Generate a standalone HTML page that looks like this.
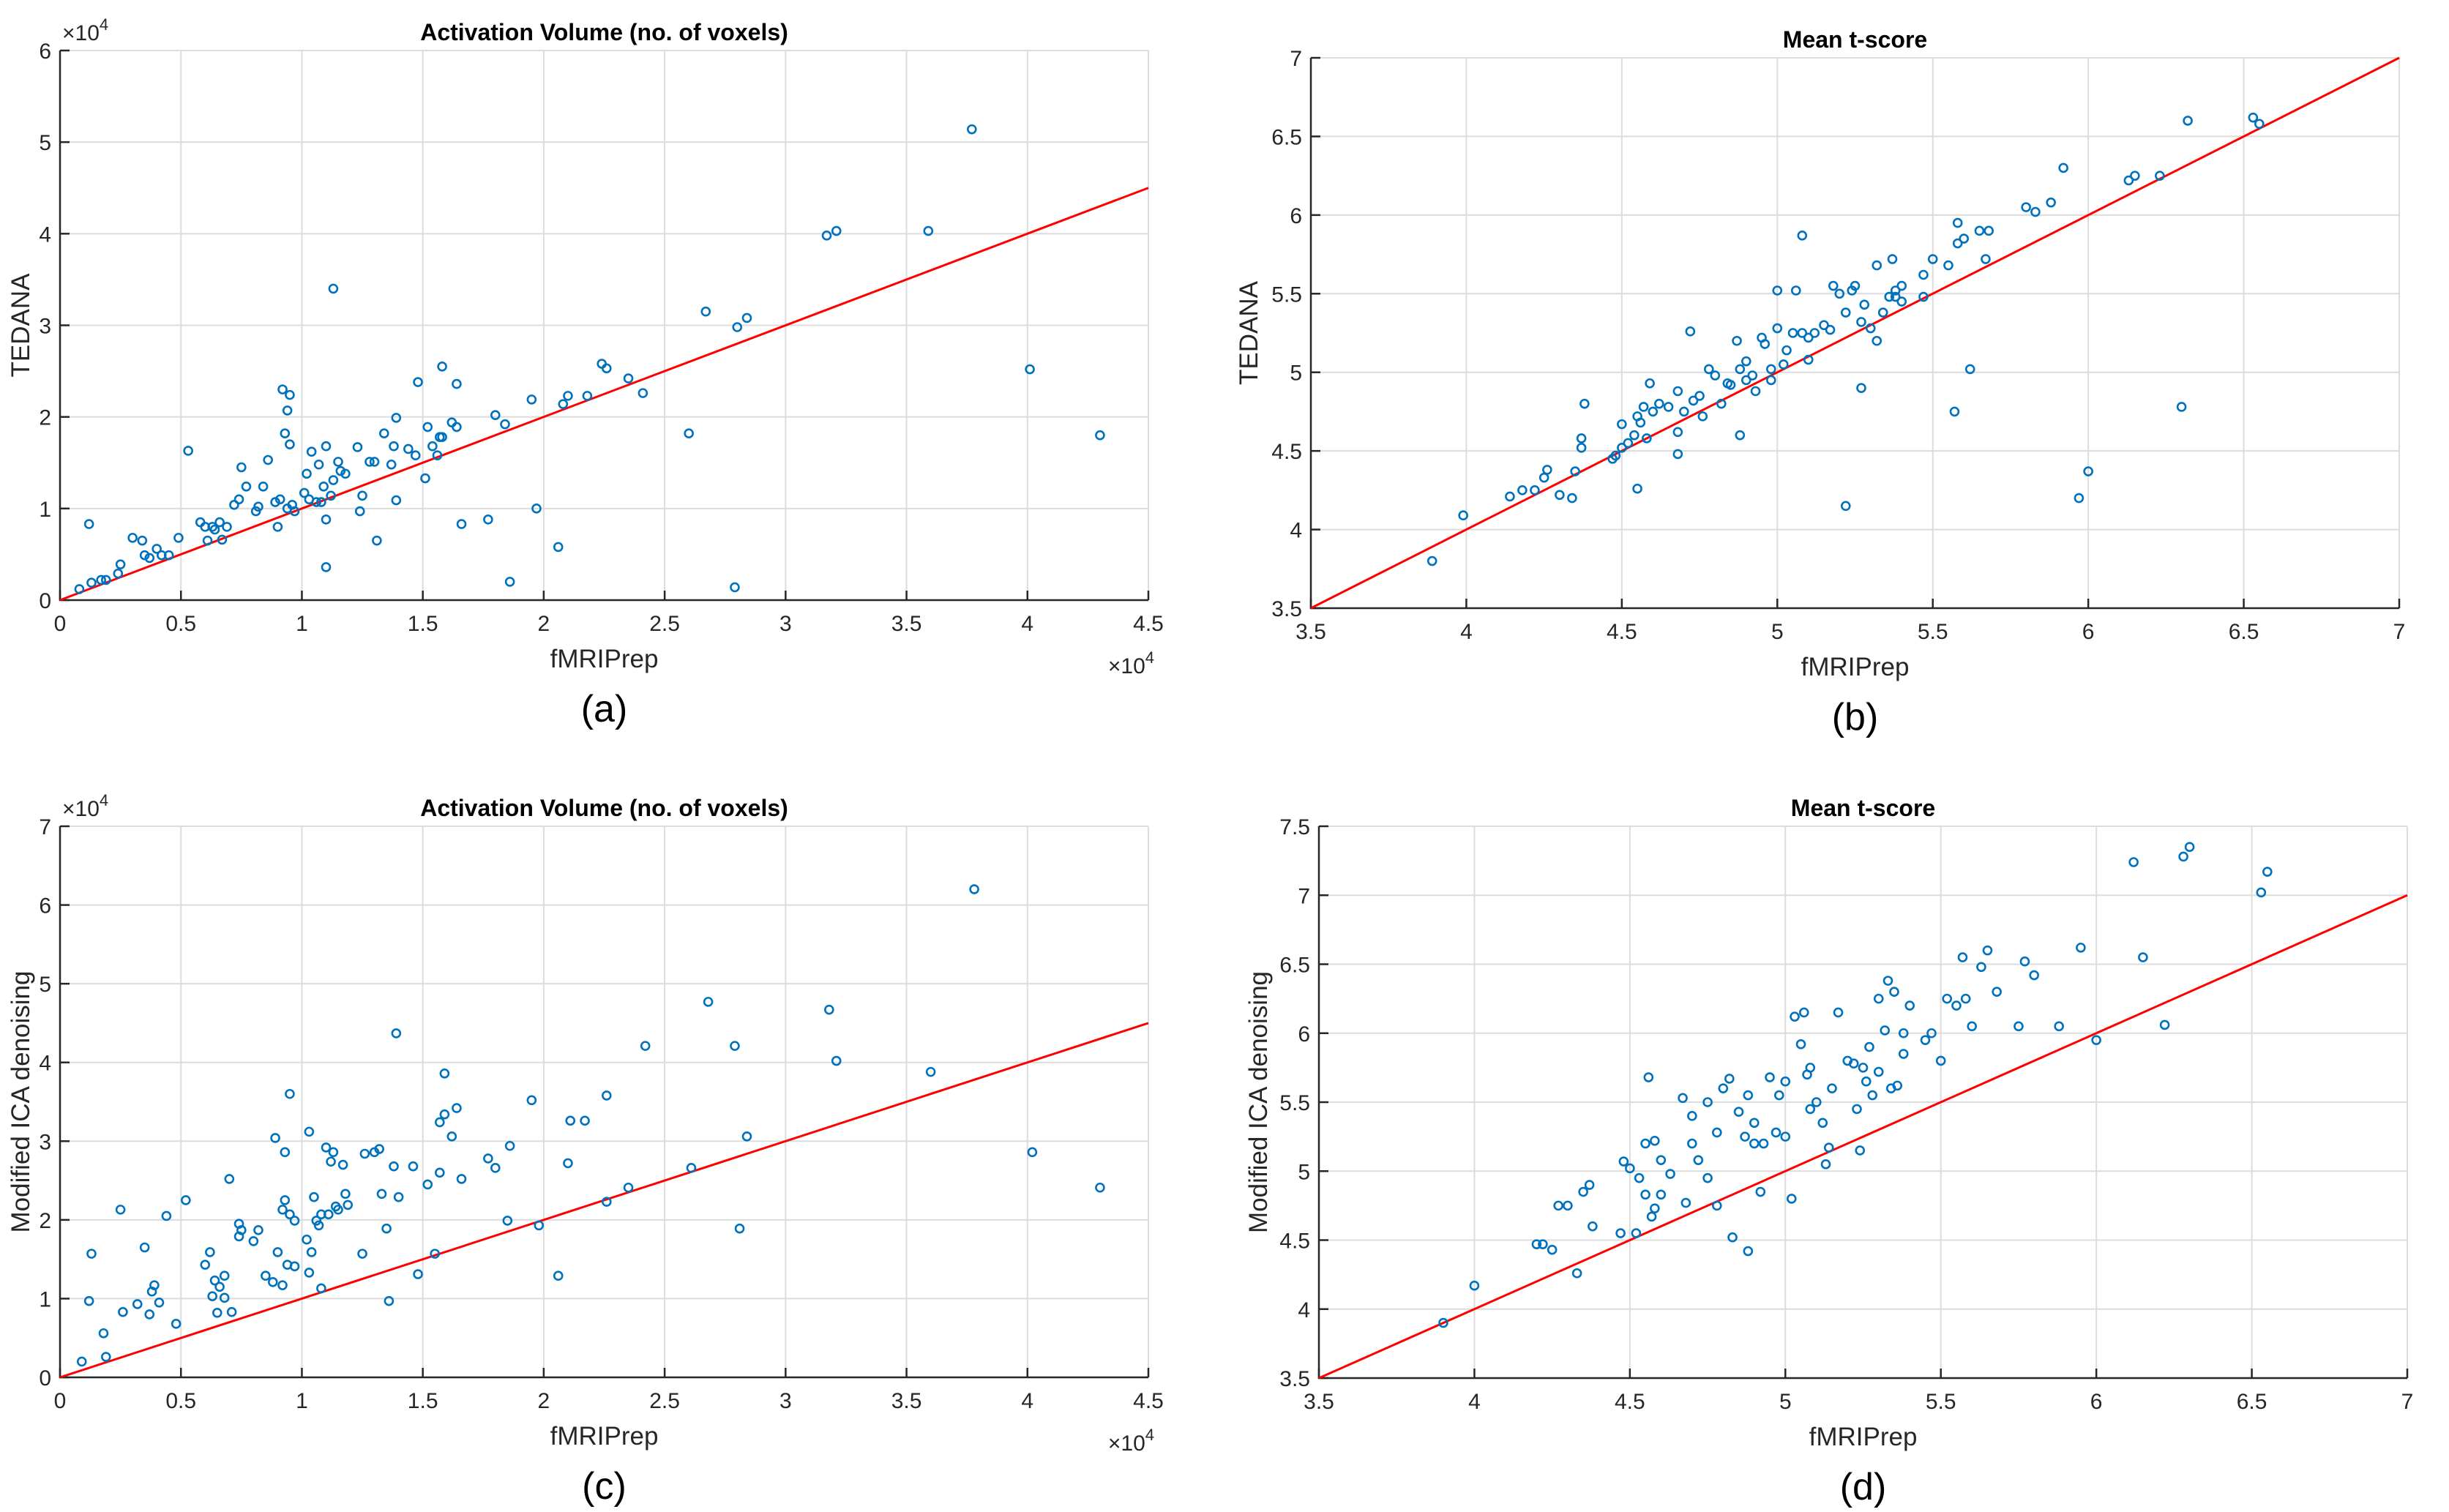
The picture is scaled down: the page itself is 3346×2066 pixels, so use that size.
<!DOCTYPE html>
<html><head><meta charset="utf-8">
<style>
html,body{margin:0;padding:0;background:#fff;}
svg{display:block;font-family:"Liberation Sans",Arial,sans-serif;}
</style></head>
<body>
<svg id="fig" width="3346" height="2066" viewBox="0 0 3346 2066" xmlns="http://www.w3.org/2000/svg"></svg>
<script>
// Panel (a): Activation volume, TEDANA vs fMRIPrep (x1e4)
const aX=[0.08,0.12,0.13,0.17,0.19,0.24,0.25,0.30,0.34,0.35,0.37,0.40,0.42,0.45,0.49,0.53,0.58,0.60,0.61,0.63,0.64,0.66,0.67,0.69,0.72,0.74,0.75,0.77,0.81,0.82,0.84,0.86,0.89,0.90,0.91,0.92,0.93,0.94,0.95,0.95,0.96,0.97,0.94,1.01,1.02,1.03,1.04,1.06,1.07,1.08,1.09,1.10,1.10,1.10,1.13,1.12,1.13,1.15,1.16,1.18,1.23,1.25,1.24,1.28,1.30,1.34,1.31,1.37,1.38,1.39,1.39,1.44,1.47,1.48,1.51,1.52,1.54,1.56,1.57,1.58,1.58,1.62,1.64,1.64,1.66,1.77,1.80,1.84,1.86,1.95,1.97,2.06,2.08,2.10,2.18,2.24,2.26,2.35,2.41,2.60,2.67,2.79,2.80,2.84,3.17,3.21,3.59,3.77,4.01,4.30];
const aY=[0.12,0.83,0.19,0.22,0.22,0.29,0.39,0.68,0.65,0.49,0.46,0.56,0.49,0.49,0.68,1.63,0.85,0.80,0.65,0.80,0.77,0.85,0.66,0.80,1.04,1.10,1.45,1.24,0.97,1.02,1.24,1.53,1.07,0.80,1.10,2.30,1.82,2.07,1.70,2.24,1.04,0.97,1.00,1.17,1.38,1.10,1.62,1.07,1.48,1.07,1.24,1.68,0.88,0.36,3.40,1.14,1.31,1.51,1.41,1.38,1.67,1.14,0.97,1.51,1.51,1.82,0.65,1.48,1.68,1.99,1.09,1.65,1.58,2.38,1.33,1.89,1.68,1.58,1.78,2.55,1.78,1.94,1.89,2.36,0.83,0.88,2.02,1.92,0.20,2.19,1.00,0.58,2.14,2.23,2.23,2.58,2.53,2.42,2.26,1.82,3.15,0.14,2.98,3.08,3.98,4.03,4.03,5.14,2.52,1.80];
// Panel (b): Mean t-score, TEDANA vs fMRIPrep
const bX=[3.89,3.99,4.14,4.18,4.22,4.25,4.26,4.30,4.34,4.35,4.37,4.37,4.38,4.47,4.48,4.50,4.50,4.52,4.54,4.55,4.55,4.56,4.57,4.58,4.59,4.60,4.62,4.65,4.68,4.68,4.68,4.70,4.72,4.73,4.75,4.76,4.78,4.80,4.82,4.84,4.85,4.87,4.88,4.88,4.90,4.90,4.92,4.93,4.95,4.96,4.98,4.98,5.00,5.00,5.02,5.03,5.05,5.06,5.08,5.08,5.10,5.10,5.12,5.15,5.17,5.18,5.20,5.22,5.22,5.24,5.25,5.27,5.27,5.28,5.30,5.32,5.32,5.34,5.36,5.37,5.38,5.38,5.40,5.40,5.47,5.47,5.50,5.55,5.57,5.58,5.58,5.60,5.62,5.65,5.67,5.68,5.80,5.83,5.88,5.92,5.97,6.00,6.13,6.15,6.23,6.30,6.32,6.53,6.55];
const bY=[3.80,4.09,4.21,4.25,4.25,4.33,4.38,4.22,4.20,4.37,4.58,4.52,4.80,4.45,4.47,4.52,4.67,4.55,4.60,4.72,4.26,4.68,4.78,4.58,4.93,4.75,4.80,4.78,4.88,4.62,4.48,4.75,5.26,4.82,4.85,4.72,5.02,4.98,4.80,4.93,4.92,5.20,4.60,5.02,4.95,5.07,4.98,4.88,5.22,5.18,5.02,4.95,5.28,5.52,5.05,5.14,5.25,5.52,5.25,5.87,5.22,5.08,5.25,5.30,5.27,5.55,5.50,5.38,4.15,5.52,5.55,5.32,4.90,5.43,5.28,5.20,5.68,5.38,5.48,5.72,5.48,5.52,5.45,5.55,5.62,5.48,5.72,5.68,4.75,5.82,5.95,5.85,5.02,5.90,5.72,5.90,6.05,6.02,6.08,6.30,4.20,4.37,6.22,6.25,6.25,4.78,6.60,6.62,6.58];
// Panel (c): Activation volume, Modified ICA vs fMRIPrep (x1e4)
const cX=[0.09,0.12,0.13,0.18,0.19,0.25,0.26,0.32,0.35,0.37,0.38,0.39,0.41,0.44,0.48,0.52,0.60,0.62,0.63,0.64,0.65,0.66,0.68,0.68,0.70,0.71,0.74,0.74,0.75,0.80,0.82,0.85,0.88,0.89,0.90,0.92,0.92,0.93,0.93,0.94,0.95,0.95,0.97,0.97,1.02,1.03,1.03,1.04,1.05,1.06,1.07,1.08,1.08,1.10,1.11,1.12,1.13,1.14,1.15,1.17,1.18,1.19,1.25,1.26,1.30,1.32,1.33,1.35,1.36,1.38,1.39,1.40,1.46,1.48,1.52,1.55,1.57,1.57,1.59,1.59,1.62,1.64,1.66,1.77,1.80,1.85,1.86,1.95,1.98,2.06,2.10,2.11,2.17,2.26,2.26,2.35,2.42,2.61,2.68,2.79,2.81,2.84,3.18,3.21,3.60,3.78,4.02,4.30];
const cY=[0.20,0.97,1.57,0.56,0.26,2.13,0.83,0.93,1.65,0.80,1.09,1.17,0.95,2.05,0.68,2.25,1.43,1.59,1.03,1.23,0.82,1.15,1.29,1.01,2.52,0.83,1.79,1.95,1.87,1.73,1.87,1.29,1.21,3.04,1.59,1.17,2.13,2.25,2.86,1.43,2.07,3.60,1.99,1.41,1.75,1.33,3.12,1.59,2.29,1.99,1.93,2.07,1.13,2.92,2.07,2.74,2.86,2.17,2.13,2.70,2.33,2.19,1.57,2.84,2.86,2.90,2.33,1.89,0.97,2.68,4.37,2.29,2.68,1.31,2.45,1.57,2.60,3.24,3.86,3.34,3.06,3.42,2.52,2.78,2.66,1.99,2.94,3.52,1.93,1.29,2.72,3.26,3.26,3.58,2.23,2.41,4.21,2.66,4.77,4.21,1.89,3.06,4.67,4.02,3.88,6.20,2.86,2.41];
// Panel (d): Mean t-score, Modified ICA vs fMRIPrep
const dX=[3.90,4.00,4.20,4.22,4.25,4.27,4.30,4.33,4.35,4.37,4.38,4.47,4.48,4.50,4.52,4.53,4.55,4.55,4.56,4.57,4.58,4.58,4.60,4.60,4.63,4.67,4.68,4.70,4.70,4.72,4.75,4.75,4.78,4.78,4.80,4.82,4.83,4.85,4.87,4.88,4.88,4.90,4.90,4.92,4.93,4.95,4.97,4.98,5.00,5.00,5.02,5.03,5.05,5.06,5.07,5.08,5.08,5.10,5.12,5.13,5.14,5.15,5.17,5.20,5.22,5.23,5.24,5.25,5.26,5.27,5.28,5.30,5.30,5.32,5.33,5.34,5.35,5.36,5.38,5.38,5.40,5.45,5.47,5.50,5.52,5.55,5.57,5.58,5.60,5.63,5.65,5.68,5.75,5.77,5.80,5.88,5.95,6.00,6.12,6.15,6.22,6.28,6.30,6.53,6.55];
const dY=[3.90,4.17,4.47,4.47,4.43,4.75,4.75,4.26,4.85,4.90,4.60,4.55,5.07,5.02,4.55,4.95,4.83,5.20,5.68,4.67,5.22,4.73,5.08,4.83,4.98,5.53,4.77,5.40,5.20,5.08,4.95,5.50,5.28,4.75,5.60,5.67,4.52,5.43,5.25,4.42,5.55,5.20,5.35,4.85,5.20,5.68,5.28,5.55,5.25,5.65,4.80,6.12,5.92,6.15,5.70,5.75,5.45,5.50,5.35,5.05,5.17,5.60,6.15,5.80,5.78,5.45,5.15,5.75,5.65,5.90,5.55,6.25,5.72,6.02,6.38,5.60,6.30,5.62,6.00,5.85,6.20,5.95,6.00,5.80,6.25,6.20,6.55,6.25,6.05,6.48,6.60,6.30,6.05,6.52,6.42,6.05,6.62,5.95,7.24,6.55,6.06,7.28,7.35,7.02,7.17];
const volTicks=[0,0.5,1,1.5,2,2.5,3,3.5,4,4.5];
const volTickLabels=["0","0.5","1","1.5","2","2.5","3","3.5","4","4.5"];
const aYTicks=[0,1,2,3,4,5,6];
const cYTicks=[0,1,2,3,4,5,6,7];
const tTicksX=[3.5,4,4.5,5,5.5,6,6.5,7];
const tTickLabelsX=["3.5","4","4.5","5","5.5","6","6.5","7"];
const bYTicks=[3.5,4,4.5,5,5.5,6,6.5,7];
const dYTicks=[3.5,4,4.5,5,5.5,6,6.5,7,7.5];

const NS="http://www.w3.org/2000/svg";
const fig=document.getElementById('fig');
function mk(tag,attrs,parent){const e=document.createElementNS(NS,tag);for(const k in attrs)e.setAttribute(k,attrs[k]);(parent||fig).appendChild(e);return e;}
function fmt(v){return String(Math.round(v*100)/100);}

function panel(p){
  const g=mk('g',{});
  
  
  const sx=v=>p.L+(v-p.x0)/(p.x1-p.x0)*(p.R-p.L);
  const sy=v=>p.B-(v-p.y0)/(p.y1-p.y0)*(p.B-p.T);
  p.xt.forEach(v=>{const l=mk('line',{x1:sx(v),x2:sx(v),y1:p.T,y2:p.B,stroke:'#dcdcdc','stroke-width':2},g);
    });
  p.yt.forEach(v=>{const l=mk('line',{x1:p.L,x2:p.R,y1:sy(v),y2:sy(v),stroke:'#dcdcdc','stroke-width':2},g);
    });
  const ax=mk('path',{d:`M${p.L},${p.T} L${p.L},${p.B} L${p.R},${p.B}`,fill:'none',stroke:'#262626','stroke-width':2.5},g);
  
  p.xt.forEach((v,i)=>{
    mk('line',{x1:sx(v),x2:sx(v),y1:p.B,y2:p.B-13,stroke:'#262626','stroke-width':2.5},g);
    const t=mk('text',{x:sx(v),y:p.B+42,'font-size':30,'text-anchor':'middle',fill:'#262626'},g);
    t.textContent=p.xl[i];
    
  });
  p.yt.forEach(v=>{
    mk('line',{x1:p.L,x2:p.L+13,y1:sy(v),y2:sy(v),stroke:'#262626','stroke-width':2.5},g);
    const t=mk('text',{x:p.L-12,y:sy(v)+11,'font-size':30,'text-anchor':'end',fill:'#262626'},g);
    t.textContent=fmt(v);
    
  });
  const lo=Math.max(p.x0,p.y0),hi=Math.min(p.x1,p.y1);
  const rl=mk('line',{x1:sx(lo),y1:sy(lo),x2:sx(hi),y2:sy(hi),stroke:'#ff0000','stroke-width':3},g);
  
  p.X.forEach((x,i)=>{
    const c=mk('circle',{cx:sx(x),cy:sy(p.Y[i]),r:5.5,fill:'none',stroke:'#0072BD','stroke-width':2.6},g);
    
    
  });
  const ti=mk('text',{x:(p.L+p.R)/2,y:p.T-14,'font-size':32,'font-weight':'bold','text-anchor':'middle',fill:'#000'},g);
  ti.textContent=p.title;
  const xl=mk('text',{x:(p.L+p.R)/2,y:p.B+92,'font-size':35,'text-anchor':'middle',fill:'#262626'},g);
  xl.textContent='fMRIPrep';
  const yx=p.ylx,yy=(p.T+p.B)/2;
  const yl=mk('text',{x:yx,y:yy,'font-size':35,'text-anchor':'middle',fill:'#262626',transform:`rotate(-90 ${yx} ${yy})`},g);
  yl.textContent=p.ylabel;
  const pl=mk('text',{x:(p.L+p.R)/2,y:p.B+166,'font-size':52,'text-anchor':'middle',fill:'#000'},g);
  pl.textContent=p.letter;
  if(p.exp){
    const e1=mk('text',{x:p.L+3,y:p.T-14,'font-size':30,fill:'#262626'},g);
    e1.innerHTML='×10<tspan dy="-14" font-size="22">4</tspan>';
    
    const e2=mk('text',{x:p.R+8,y:p.B+100,'font-size':30,'text-anchor':'end',fill:'#262626'},g);
    e2.innerHTML='×10<tspan dy="-14" font-size="22">4</tspan>';
    
  }
}
panel({name:'panel-a',L:82,R:1569,T:69,B:820,x0:0,x1:4.5,y0:0,y1:6,xt:volTicks,xl:volTickLabels,yt:aYTicks,X:aX,Y:aY,title:'Activation Volume (no. of voxels)',ylabel:'TEDANA',ylx:40,letter:'(a)',exp:true});
panel({name:'panel-b',L:1791,R:3278,T:79,B:831,x0:3.5,x1:7,y0:3.5,y1:7,xt:tTicksX,xl:tTickLabelsX,yt:bYTicks,X:bX,Y:bY,title:'Mean t-score',ylabel:'TEDANA',ylx:1718,letter:'(b)',exp:false});
panel({name:'panel-c',L:82,R:1569,T:1129,B:1882,x0:0,x1:4.5,y0:0,y1:7,xt:volTicks,xl:volTickLabels,yt:cYTicks,X:cX,Y:cY,title:'Activation Volume (no. of voxels)',ylabel:'Modified ICA denoising',ylx:40,letter:'(c)',exp:true});
panel({name:'panel-d',L:1802,R:3289,T:1129,B:1883,x0:3.5,x1:7,y0:3.5,y1:7.5,xt:tTicksX,xl:tTickLabelsX,yt:dYTicks,X:dX,Y:dY,title:'Mean t-score',ylabel:'Modified ICA denoising',ylx:1731,letter:'(d)',exp:false});
</script>
</body></html>
